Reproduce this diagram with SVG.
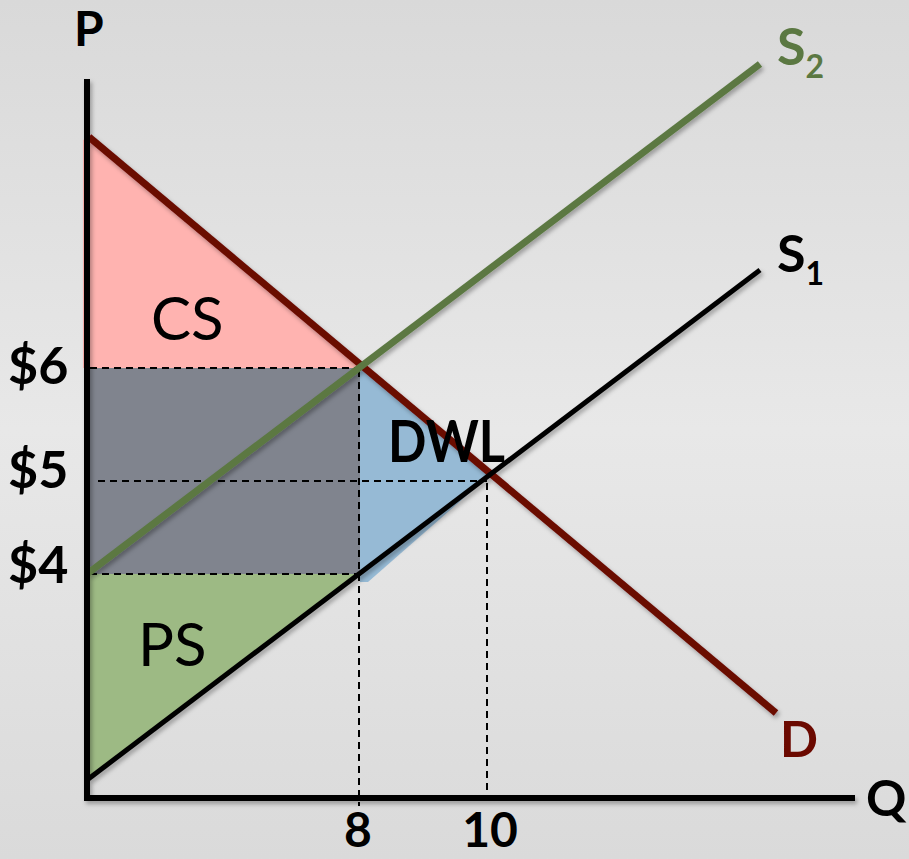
<svg xmlns="http://www.w3.org/2000/svg" width="909" height="859" viewBox="0 0 909 859">
<defs>
<linearGradient id="bg" x1="0" y1="0" x2="0" y2="1">
<stop offset="0" stop-color="#d9d9d9"/>
<stop offset="0.5" stop-color="#e8e8e8"/>
<stop offset="1" stop-color="#dadada"/>
</linearGradient>
<filter id="sh" x="-10%" y="-10%" width="120%" height="120%">
<feDropShadow dx="2" dy="3" stdDeviation="2" flood-color="#000" flood-opacity="0.3"/>
</filter>
</defs>
<style>
.lbl{font-family:Lato,"Open Sans","Liberation Sans",sans-serif;font-weight:bold;fill:#000}
.area{font-family:Lato,"Open Sans","Liberation Sans",sans-serif;fill:#000}
.dash{stroke:#000;stroke-width:2;stroke-dasharray:7 5;fill:none}
.curve{fill:none;stroke-linecap:butt}
</style>
<rect width="909" height="859" fill="url(#bg)"/>
<g id="areas">
<polygon id="cs-area" points="83,140 89,137 362,368 83,368" fill="#ffb3b0"/>
<rect id="gray-area" x="87" y="368" width="273" height="206" fill="#80848e"/>
<polygon id="dwl-area" points="360,368 489,476 368,582 360,582" fill="#96bad5"/>
<polygon id="ps-area" points="87,574 362,574 87,781" fill="#9dba84"/>
</g>
<g id="connectors">
<line class="dash" x1="90" y1="368" x2="356" y2="368"/>
<line class="dash" x1="98" y1="481" x2="487" y2="481"/>
<line class="dash" x1="90" y1="574" x2="358" y2="574"/>
<line class="dash" x1="359" y1="370" x2="359" y2="806"/>
<line class="dash" x1="487" y1="483" x2="487" y2="798"/>
<g filter="url(#sh)">
<line id="demand" class="curve" x1="89" y1="137" x2="776" y2="713" stroke="#6b0900" stroke-width="7"/>
<line id="supply1" class="curve" x1="87" y1="780" x2="760" y2="270" stroke="#000" stroke-width="5"/>
<line id="supply2" class="curve" x1="87" y1="574" x2="760" y2="64" stroke="#5b7842" stroke-width="7"/>
<line id="y-axis" x1="87" y1="79" x2="87" y2="801" stroke="#000" stroke-width="6"/>
<line id="x-axis" x1="84" y1="798" x2="855" y2="798" stroke="#000" stroke-width="6"/>
</g>
</g>
<g id="labels">
<text class="lbl" x="74" y="46" font-size="48">P</text>
<text class="lbl" x="8" y="384" font-size="52">$6</text>
<text class="lbl" x="8" y="488" font-size="52">$5</text>
<text class="lbl" x="8" y="583" font-size="52">$4</text>
<text class="area" x="151" y="340" font-size="60">CS</text>
<text class="area" x="138" y="666" font-size="60">PS</text>
<text class="lbl" x="388" y="462" font-size="58" textLength="117" lengthAdjust="spacingAndGlyphs">DWL</text>
<text class="lbl" x="777" y="65" font-size="52" style="fill:#5b7842">S<tspan font-size="32" dy="13">2</tspan></text>
<text class="lbl" x="777" y="272" font-size="52">S<tspan font-size="32" dy="13">1</tspan></text>
<text class="lbl" x="780" y="757" font-size="50" style="fill:#6b0900">D</text>
<text class="lbl" x="866" y="816" font-size="50">Q</text>
<text class="lbl" x="358" y="847" font-size="48" text-anchor="middle">8</text>
<text class="lbl" x="490" y="847" font-size="48" text-anchor="middle">10</text>
</g>
</svg>
